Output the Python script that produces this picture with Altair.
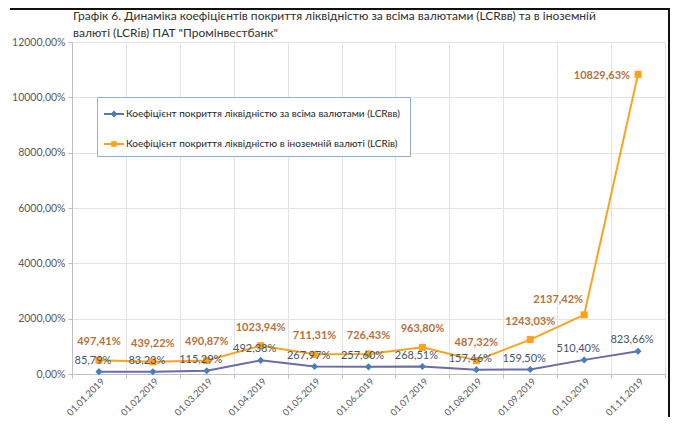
import altair as alt
import pandas as pd

dates = ["01.01.2019", "01.02.2019", "01.03.2019", "01.04.2019", "01.05.2019",
         "01.06.2019", "01.07.2019", "01.08.2019", "01.09.2019", "01.10.2019",
         "01.11.2019"]
lcr_all = [85.79, 83.23, 115.29, 492.38, 267.97, 257.60, 268.51, 157.46, 159.50, 510.40, 823.66]
lcr_fx = [497.41, 439.22, 490.87, 1023.94, 711.31, 726.43, 963.80, 487.32, 1243.03, 2137.42, 10829.63]

s_all = "Коефіцієнт покриття  ліквідністю за всіма валютами (LCRвв)"
s_fx = "Коефіцієнт покриття ліквідністю в іноземній валюті (LCRiв)"

title_lines = ["Графік 6. Динаміка коефіцієнтів покриття ліквідністю за всіма валютами (LCRвв) та в іноземній",
               "валюті (LCRiв)  ПАТ \"Промінвестбанк\""]

rows = []
for i, d in enumerate(dates):
    rows.append({"idx": i, "date": d, "series": s_all, "value": lcr_all[i]})
    rows.append({"idx": i, "date": d, "series": s_fx, "value": lcr_fx[i]})
df = pd.DataFrame(rows)
df["lbl"] = df["value"].map(lambda v: f"{v:.2f}".replace(".", ",") + "%")

FONT = "Lato"
DOM = [s_all, s_fx]
line_colors = ["#6B6BA8", "#FFA21A"]
marker_colors = ["#4A7EBB", "#FFA21A"]
legend_colors = ["#4F79B8", "#FFA21A"]
label_colors = {s_all: "#44546A", s_fx: "#B8703A"}

date_expr = "[" + ",".join(f"'{d}'" for d in dates) + "][datum.value]"

xscale = alt.Scale(domain=[-0.5, len(dates) - 0.5], nice=False, zero=False)
yscale = alt.Scale(domain=[0, 12000], nice=False)

x_grid = alt.X("idx:Q", scale=xscale, axis=alt.Axis(
    orient="bottom", values=[i - 0.5 for i in range(len(dates) + 1)], labels=False, grid=True,
    gridColor="#E3E3E3", ticks=True, tickSize=4, tickColor="#BFBFBF",
    domainColor="#BFBFBF", title=None))
x_none = alt.X("idx:Q", scale=xscale, axis=None)
y_enc = alt.Y("value:Q", scale=yscale, axis=alt.Axis(
    values=list(range(0, 12001, 2000)), title=None, grid=True, gridColor="#E3E3E3",
    tickSize=4, tickColor="#BFBFBF", domainColor="#BFBFBF",
    labelExpr="replace(format(datum.value, '.2f'), '.', ',') + '%'",
    labelFont=FONT, labelFontSize=10.5, labelColor="#595959", labelPadding=3))
y_plain = alt.Y("value:Q", scale=yscale)

base = alt.Chart(df)

# legend symbols: short line + marker, as filled paths
leg_diamond = "M-1,-0.09L1,-0.09L1,0.09L-1,0.09ZM0,-0.34L0.34,0L0,0.34L-0.34,0Z"
leg_square = "M-1,-0.09L1,-0.09L1,0.09L-1,0.09ZM-0.28,-0.28L0.28,-0.28L0.28,0.28L-0.28,0.28Z"
leg = alt.Legend(title=None, orient="none", legendX=25, legendY=55,
                 symbolSize=400, symbolStrokeWidth=0,
                 symbolType=alt.ExprRef(expr=f"datum.index === 0 ? '{leg_diamond}' : '{leg_square}'"),
                 labelFont=FONT, labelFontSize=10, labelColor="#262626",
                 labelLimit=400, rowPadding=15, padding=7,
                 strokeColor="#8EB0DA", fillColor="white", labelOffset=2)

lines = base.mark_line(strokeWidth=2).encode(
    x=x_grid, y=y_enc,
    color=alt.Color("series:N", scale=alt.Scale(domain=DOM, range=line_colors), legend=None),
    detail="series:N")

legend_host = base.mark_point(filled=True, opacity=0).encode(
    x=x_none, y=y_plain,
    color=alt.Color("series:N", scale=alt.Scale(domain=DOM, range=legend_colors), legend=leg))

x_lab = alt.X("idx:Q", scale=xscale, axis=alt.Axis(
    orient="bottom", values=list(range(len(dates))), labelExpr=date_expr, labelAngle=-45,
    ticks=False, domain=False, grid=False, title=None, labelFont=FONT,
    labelFontSize=9.5, labelColor="#595959", labelPadding=2))

pts = base.mark_point(filled=True, opacity=1, size=50).encode(
    x=x_lab, y=y_plain,
    color=alt.Color("series:N", scale=alt.Scale(domain=DOM, range=marker_colors), legend=None),
    shape=alt.Shape("series:N", scale=alt.Scale(domain=DOM, range=["diamond", "square"]), legend=None))

txt_all = base.transform_filter(alt.datum.series == s_all).mark_text(
    font=FONT, fontSize=11, dy=-11, dx=-6, color=label_colors[s_all]).encode(
    x=x_none, y=y_plain, text="lbl:N")
txt_fx_a = base.transform_filter((alt.datum.series == s_fx) & (alt.datum.idx < 9)).mark_text(
    font=FONT, fontSize=11, fontWeight="bold", dy=-18, color=label_colors[s_fx]).encode(
    x=x_none, y=y_plain, text="lbl:N")
txt_fx_9 = base.transform_filter((alt.datum.series == s_fx) & (alt.datum.idx == 9)).mark_text(
    font=FONT, fontSize=11, fontWeight="bold", align="right", dx=-1, dy=-15,
    color=label_colors[s_fx]).encode(
    x=x_none, y=y_plain, text="lbl:N")
txt_fx_10 = base.transform_filter((alt.datum.series == s_fx) & (alt.datum.idx == 10)).mark_text(
    font=FONT, fontSize=11, fontWeight="bold", align="right", dx=-8, dy=2,
    color=label_colors[s_fx]).encode(
    x=x_none, y=y_plain, text="lbl:N")

title1 = alt.Chart(pd.DataFrame({"t": [title_lines[0]]})).mark_text(
    font=FONT, fontSize=12, color="#303030", align="left", baseline="middle").encode(
    x=alt.value(1), y=alt.value(-26), text="t:N")
title2 = alt.Chart(pd.DataFrame({"t": [title_lines[1]]})).mark_text(
    font=FONT, fontSize=12, color="#303030", align="left", baseline="middle").encode(
    x=alt.value(1), y=alt.value(-9), text="t:N")

frame_right = alt.Chart(pd.DataFrame({"a": [0]})).mark_rule(color="#111", strokeWidth=2).encode(
    x=alt.value(597), y=alt.value(-33), y2=alt.value(375))
frame_top = alt.Chart(pd.DataFrame({"a": [0]})).mark_rule(color="#111", strokeWidth=2).encode(
    x=alt.value(-62), x2=alt.value(598), y=alt.value(-33))

chart = alt.layer(lines, legend_host, pts, txt_all, txt_fx_a, txt_fx_9, txt_fx_10,
                  title1, title2, frame_right, frame_top).resolve_axis(
    x="independent").resolve_scale(color="independent", shape="independent").properties(
    width=593, height=332,
    autosize=alt.AutoSizeParams(type="none"),
    padding={"left": 64, "top": 34, "right": 5, "bottom": 43}
).configure_view(stroke=None).configure(background="white")

chart.save("out.html", embed_options={"renderer": "svg", "actions": False})
